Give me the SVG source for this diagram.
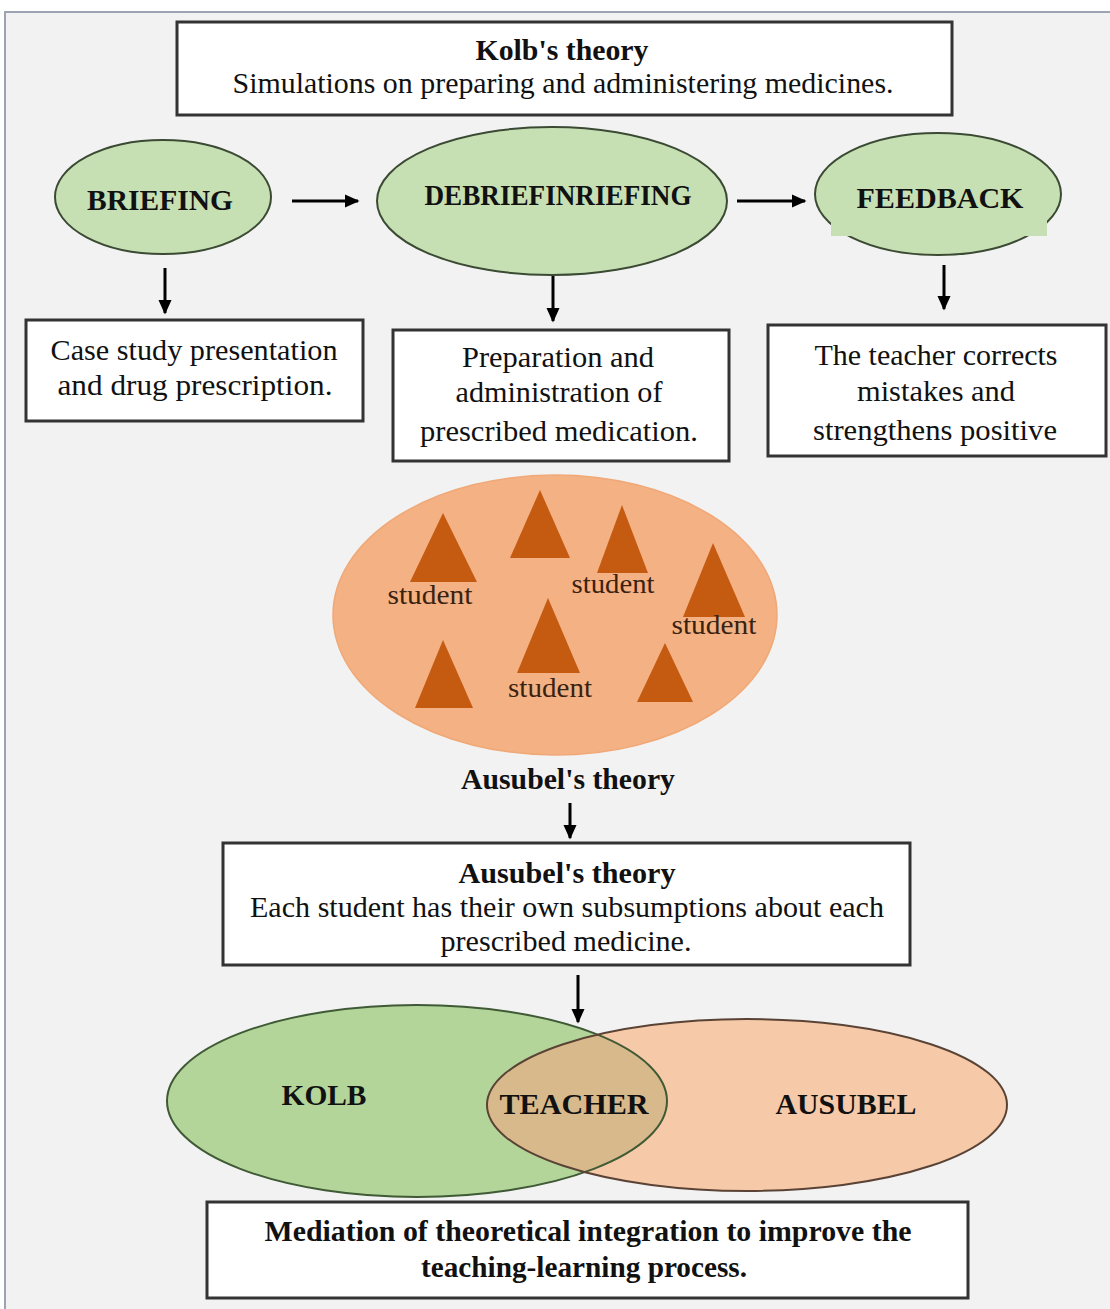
<svg xmlns="http://www.w3.org/2000/svg" width="1110" height="1309" viewBox="0 0 1110 1309">
<defs>
<style>
text{font-family:"Liberation Serif","Times New Roman",serif;fill:#111;text-anchor:middle}
.b{font-weight:bold}
.t{font-size:29px}
.box{fill:#fff;stroke:#333;stroke-width:3}
.oval{fill:#c6e0b4;stroke:#3b4a33;stroke-width:2}
.tri{fill:#c55a11}
.st{font-size:27px;fill:#3a2210}
.con{stroke:#000;stroke-width:3;fill:none;marker-end:url(#ah)}
</style>
<marker id="ah" viewBox="0 0 10 10" refX="9" refY="5" markerWidth="5" markerHeight="5" orient="auto" markerUnits="strokeWidth">
<path d="M0,0.5 L10,5 L0,9.5 z" fill="#000"/>
</marker>
<clipPath id="gclip"><ellipse cx="417" cy="1101" rx="250" ry="96"/></clipPath>
</defs>
<rect x="0" y="0" width="1110" height="1309" fill="#fff"/>
<rect x="5" y="12" width="1120" height="1310" fill="#f2f2f2" stroke="#9ea3b3" stroke-width="2"/>

<g id="connectors">
<line class="con" x1="292" y1="201" x2="358" y2="201"/>
<line class="con" x1="737" y1="201" x2="805" y2="201"/>
<line class="con" x1="165" y1="268" x2="165" y2="313"/>
<line class="con" x1="553" y1="276" x2="553" y2="321"/>
<line class="con" x1="944" y1="265" x2="944" y2="309"/>
<line class="con" x1="570" y1="803" x2="570" y2="838"/>
<line class="con" x1="578" y1="975" x2="578" y2="1022"/>
</g>

<g id="kolb-box">
<rect class="box" x="177" y="22" width="775" height="93"/>
<text class="t b" x="562" y="60" textLength="173" lengthAdjust="spacingAndGlyphs">Kolb's theory</text>
<text class="t" x="563" y="93" textLength="661" lengthAdjust="spacingAndGlyphs">Simulations on preparing and administering medicines.</text>
</g>

<g id="briefing">
<ellipse class="oval" cx="163" cy="197" rx="108" ry="57"/>
<text class="t b" x="160" y="210" textLength="146" lengthAdjust="spacingAndGlyphs">BRIEFING</text>
</g>
<g id="debriefing">
<ellipse class="oval" cx="552" cy="201" rx="175" ry="74"/>
<text class="t b" x="558" y="205" textLength="267" lengthAdjust="spacingAndGlyphs">DEBRIEFINRIEFING</text>
</g>
<g id="feedback">
<ellipse class="oval" cx="938" cy="194" rx="123" ry="61"/>
<rect x="831" y="221" width="216" height="15" fill="#c6e0b4"/>
<text class="t b" x="940" y="208" textLength="167" lengthAdjust="spacingAndGlyphs">FEEDBACK</text>
</g>

<g id="case-box">
<rect class="box" x="26" y="320" width="337" height="101"/>
<text class="t" x="194" y="360" textLength="287" lengthAdjust="spacingAndGlyphs">Case study presentation</text>
<text class="t" x="195" y="395" textLength="275" lengthAdjust="spacingAndGlyphs">and drug prescription.</text>
</g>
<g id="prep-box">
<rect class="box" x="393" y="330" width="336" height="131"/>
<text class="t" x="558" y="367" textLength="192" lengthAdjust="spacingAndGlyphs">Preparation and</text>
<text class="t" x="559" y="402" textLength="207" lengthAdjust="spacingAndGlyphs">administration of</text>
<text class="t" x="559" y="441" textLength="278" lengthAdjust="spacingAndGlyphs">prescribed medication.</text>
</g>
<g id="teacher-box">
<rect class="box" x="768" y="325" width="338" height="131"/>
<text class="t" x="936" y="365" textLength="243" lengthAdjust="spacingAndGlyphs">The teacher corrects</text>
<text class="t" x="936" y="401" textLength="158" lengthAdjust="spacingAndGlyphs">mistakes and</text>
<text class="t" x="935" y="440" textLength="244" lengthAdjust="spacingAndGlyphs">strengthens positive</text>
</g>

<g id="students">
<ellipse cx="555" cy="615" rx="222" ry="140" fill="#f4b183" stroke="#f0a877" stroke-width="1.5"/>
<polygon class="tri" points="443,513 410,582 477,582"/>
<polygon class="tri" points="540,490 510,558 570,558"/>
<polygon class="tri" points="622,505 597,573 648,573"/>
<polygon class="tri" points="713,543 683,617 745,617"/>
<polygon class="tri" points="443,640 415,708 473,708"/>
<polygon class="tri" points="548,598 517,673 580,673"/>
<polygon class="tri" points="665,643 637,702 693,702"/>
<text class="st" x="430" y="604" textLength="85" lengthAdjust="spacingAndGlyphs">student</text>
<text class="st" x="613" y="593" textLength="83" lengthAdjust="spacingAndGlyphs">student</text>
<text class="st" x="714" y="634" textLength="85" lengthAdjust="spacingAndGlyphs">student</text>
<text class="st" x="550" y="697" textLength="84" lengthAdjust="spacingAndGlyphs">student</text>
</g>

<g id="ausubel-label">
<text class="t b" x="568" y="789" textLength="214" lengthAdjust="spacingAndGlyphs">Ausubel's theory</text>
</g>

<g id="ausubel-box">
<rect class="box" x="223" y="843" width="687" height="122"/>
<text class="t b" x="567" y="883" textLength="217" lengthAdjust="spacingAndGlyphs">Ausubel's theory</text>
<text class="t" x="567" y="917" textLength="634" lengthAdjust="spacingAndGlyphs">Each student has their own subsumptions about each</text>
<text class="t" x="566" y="951" textLength="251" lengthAdjust="spacingAndGlyphs">prescribed medicine.</text>
</g>

<g id="venn">
<ellipse cx="417" cy="1101" rx="250" ry="96" fill="#b3d59a"/>
<ellipse cx="747" cy="1105" rx="260" ry="86" fill="#f6c9a8"/>
<ellipse cx="747" cy="1105" rx="260" ry="86" fill="#d8b98b" clip-path="url(#gclip)"/>
<ellipse cx="417" cy="1101" rx="250" ry="96" fill="none" stroke="#3f5a35" stroke-width="2"/>
<ellipse cx="747" cy="1105" rx="260" ry="86" fill="none" stroke="#5a4335" stroke-width="2"/>
<text class="t b" x="324" y="1105" textLength="85" lengthAdjust="spacingAndGlyphs">KOLB</text>
<text class="t b" x="574" y="1114" textLength="149" lengthAdjust="spacingAndGlyphs">TEACHER</text>
<text class="t b" x="846" y="1114" textLength="141" lengthAdjust="spacingAndGlyphs">AUSUBEL</text>
</g>

<g id="mediation-box">
<rect class="box" x="207" y="1202" width="761" height="96"/>
<text class="t b" x="588" y="1241" textLength="647" lengthAdjust="spacingAndGlyphs">Mediation of theoretical integration to improve the</text>
<text class="t b" x="584" y="1277" textLength="326" lengthAdjust="spacingAndGlyphs">teaching-learning process.</text>
</g>
</svg>
